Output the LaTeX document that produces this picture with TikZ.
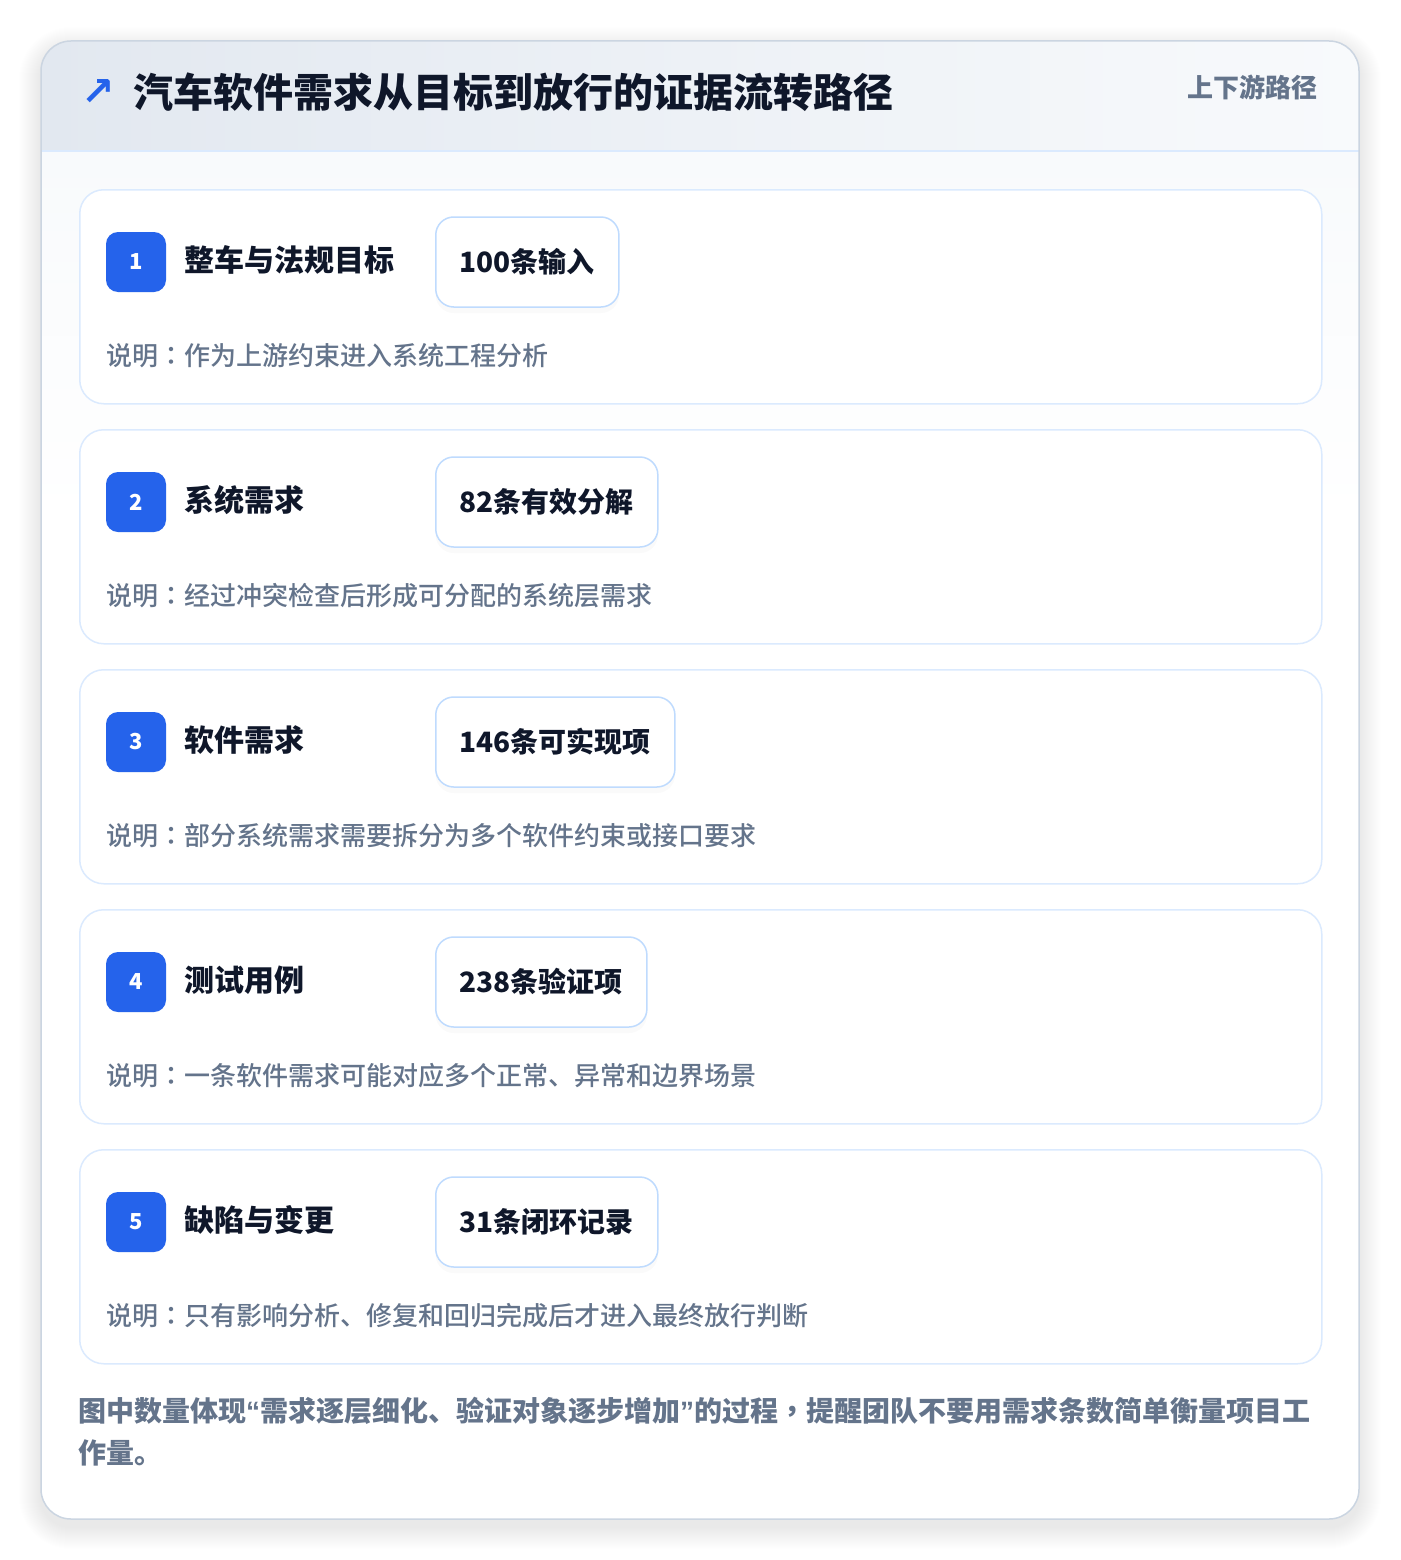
\documentclass[tikz,border=0pt]{standalone}
\usepackage{fontspec}
\setmainfont{Noto Sans CJK SC}
\newfontfamily\mediumfont{Noto Sans CJK SC Medium}
\newfontfamily\tcfont{Noto Sans CJK TC Medium}
\newfontfamily\arrowfont{DejaVu Sans}
\newfontfamily\quotefont{Liberation Sans}
\usetikzlibrary{positioning,shadows}

\definecolor{accent}{HTML}{2563EB}
\definecolor{ink}{HTML}{0F172A}
\definecolor{muted}{HTML}{64748B}
\definecolor{frame}{HTML}{CBD5E1}
\definecolor{cardline}{HTML}{DBEAFE}
\definecolor{pillline}{HTML}{BFDBFE}
\definecolor{headleft}{HTML}{E2E8F0}
\definecolor{headright}{HTML}{F8FAFC}

\tikzset{
  stepcard/.style={draw=cardline, line width=1.5pt, fill=white, rounded corners=24pt,
    anchor=north west, minimum width=1242pt, minimum height=214pt, inner sep=0pt},
  badge/.style={fill=accent, rounded corners=12pt, minimum width=60pt, minimum height=60pt,
    inner sep=0pt, text=white, font=\fontsize{22}{26}\selectfont\bfseries},
  steptitle/.style={anchor=base west, inner sep=0pt, text=ink, font=\fontsize{30}{36}\selectfont\bfseries},
  pill/.style={draw=pillline, line width=1.5pt, fill=white, rounded corners=18pt, minimum height=90pt,
    inner xsep=24pt, anchor=west, text=ink, font=\fontsize{28}{34}\selectfont\bfseries,
    drop shadow={opacity=0.04, shadow xshift=0pt, shadow yshift=-6pt}},
  note/.style={anchor=base west, inner sep=0pt, text=muted, font=\fontsize{26}{32}\selectfont\mediumfont},
}

\begin{document}
\begin{tikzpicture}[x=1pt,y=-1pt]
  \useasboundingbox (0,0) rectangle (1400,1560);
  \fill[white] (0,0) rectangle (1400,1560);

  % soft shadow round the panel
  \foreach \k in {1,...,22}
    \fill[black, opacity=0.0045, rounded corners=30pt+\k pt] (41-\k,49-\k) rectangle (1359+\k,1527+\k);

  % panel and header band
  \begin{scope}
    \clip[rounded corners=30pt] (41,41) rectangle (1359,1519);
    \fill[white] (41,41) rectangle (1359,1519);
    \shade[left color=headleft, right color=headright] (41,41) rectangle (1359,151);
    \shade[top color=headright, bottom color=white] (41,151) rectangle (1359,520);
  \end{scope}
  \draw[cardline, line width=1.5pt] (41,151) -- (1359,151);
  \draw[frame, line width=1.5pt, rounded corners=30pt] (41,41) rectangle (1359,1519);

  \node[text=accent, font=\arrowfont\fontsize{40}{46}\selectfont\bfseries] (arrow) at (98,93) {↗};
  \node[anchor=base west, inner sep=0pt, text=ink, font=\fontsize{40}{48}\selectfont\bfseries] (heading) at (133,108) {汽车软件需求从目标到放行的证据流转路径};
  \node[anchor=base east, inner sep=0pt, text=muted, font=\fontsize{26}{32}\selectfont\bfseries] (tag) at (1318,98) {上下游路径};

  % one card per stage
  \foreach \i/\name/\count/\desc in {
      1/整车与法规目标/100条输入/作为上游约束进入系统工程分析,
      2/系统需求/82条有效分解/经过冲突检查后形成可分配的系统层需求,
      3/软件需求/146条可实现项/部分系统需求需要拆分为多个软件约束或接口要求,
      4/测试用例/238条验证项/一条软件需求可能对应多个正常、异常和边界场景,
      5/缺陷与变更/31条闭环记录/只有影响分析、修复和回归完成后才进入最终放行判断} {
    \pgfmathsetmacro{\cardtop}{189+240*(\i-1)}
    \node[stepcard] (card\i) at (79,\cardtop) {};
    \node[badge] (badge\i) at (136,\cardtop+73) {\i};
    \node[steptitle] (title\i) at (184,\cardtop+82) {\name};
    \node[pill] (count\i) at (435,\cardtop+73) {\count};
    \node[note] (desc\i) at (106,\cardtop+176) {说明{\tcfont ：}\desc};
  }

  \node[anchor=north west, align=left, inner sep=0pt, text=muted, font=\fontsize{28}{42}\selectfont\bfseries] (summary) at (78,1397)
    {图中数量体现{\quotefont\bfseries “}需求逐层细化、验证对象逐步增加{\quotefont\bfseries ”}的过程{\tcfont\bfseries ，}提醒团队不要用需求条数简单衡量项目工\\作量。};
\end{tikzpicture}
\end{document}
